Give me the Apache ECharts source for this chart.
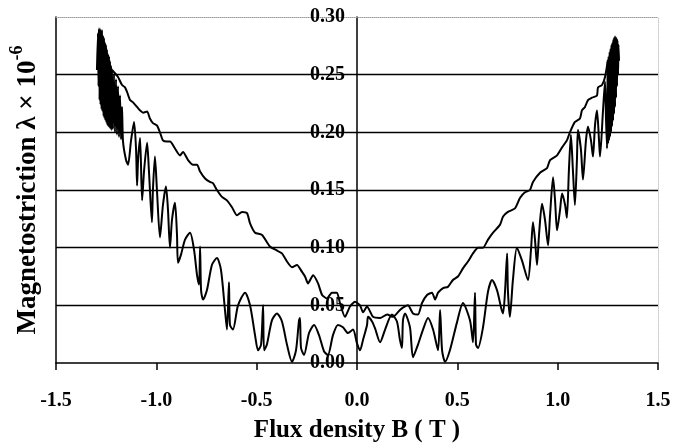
<!DOCTYPE html>
<html>
<head>
<meta charset="utf-8">
<script src="https://cdn.jsdelivr.net/npm/echarts@6/dist/echarts.min.js"></script>
<style>
  html, body { margin: 0; padding: 0; background: #fff; }
  #chart { width: 680px; height: 443px; }
</style>
</head>
<body>
<div id="chart"></div>
<script>
// Butterfly loop: magnetostriction versus flux density.
// Branch traced with the smoother, rippled curve.
const upperB = [-1.221, -1.191, -1.171, -1.156, -1.146, -1.131, -1.116, -1.096, -1.081, -1.066,
  -1.046, -1.032, -1.017, -0.997, -0.982, -0.967, -0.947, -0.932, -0.907, -0.882,
  -0.867, -0.842, -0.817, -0.797, -0.782, -0.757, -0.733, -0.718, -0.698, -0.673,
  -0.648, -0.623, -0.598, -0.573, -0.548, -0.533, -0.508, -0.473, -0.434, -0.404,
  -0.374, -0.349, -0.324, -0.299, -0.274, -0.259, -0.244, -0.219, -0.194, -0.174,
  -0.150, -0.125, -0.100, -0.085, -0.060, -0.035, -0.010, 0.015, 0.030, 0.050,
  0.080, 0.115, 0.150, 0.179, 0.214, 0.229, 0.254, 0.279, 0.304, 0.324,
  0.349, 0.374, 0.389, 0.404, 0.429, 0.453, 0.478, 0.503, 0.528, 0.553,
  0.578, 0.603, 0.628, 0.653, 0.678, 0.713, 0.728, 0.752, 0.787, 0.812,
  0.837, 0.862, 0.877, 0.912, 0.947, 0.962, 0.997, 1.022, 1.046, 1.061,
  1.086, 1.111, 1.121, 1.136, 1.151, 1.171, 1.196, 1.201, 1.221, 1.236, 1.251];
const upperL = [0.254, 0.248, 0.241, 0.239, 0.235, 0.228, 0.226, 0.222, 0.219, 0.217,
  0.218, 0.212, 0.208, 0.206, 0.200, 0.193, 0.192, 0.192, 0.186, 0.180,
  0.183, 0.176, 0.172, 0.172, 0.166, 0.160, 0.157, 0.156, 0.150, 0.144,
  0.141, 0.135, 0.128, 0.131, 0.130, 0.121, 0.113, 0.111, 0.101, 0.098,
  0.095, 0.088, 0.083, 0.085, 0.079, 0.075, 0.069, 0.076, 0.069, 0.059,
  0.056, 0.061, 0.061, 0.052, 0.040, 0.049, 0.053, 0.050, 0.044, 0.049,
  0.040, 0.039, 0.042, 0.040, 0.046, 0.048, 0.050, 0.043, 0.042, 0.052,
  0.059, 0.061, 0.055, 0.061, 0.065, 0.066, 0.072, 0.075, 0.082, 0.088,
  0.095, 0.100, 0.100, 0.107, 0.113, 0.120, 0.127, 0.131, 0.134, 0.143,
  0.148, 0.150, 0.157, 0.165, 0.169, 0.176, 0.180, 0.187, 0.193, 0.200,
  0.209, 0.212, 0.219, 0.222, 0.228, 0.230, 0.232, 0.239, 0.241, 0.248, 0.263];

// Return branch with the strong oscillations, including both saturation ends.
const lowerB = [-1.296, -1.291, -1.288, -1.286, -1.283, -1.281, -1.278, -1.276, -1.273, -1.271,
  -1.268, -1.266, -1.263, -1.261, -1.258, -1.256, -1.253, -1.251, -1.248, -1.246,
  -1.243, -1.241, -1.238, -1.236, -1.233, -1.231, -1.228, -1.226, -1.223, -1.221,
  -1.216, -1.211, -1.206, -1.201, -1.196, -1.191, -1.186, -1.181, -1.176, -1.171,
  -1.166, -1.151,
  -1.141, -1.126, -1.111, -1.101, -1.096, -1.091, -1.081, -1.071, -1.061, -1.046,
  -1.037, -1.022, -1.017, -1.007, -0.997, -0.982, -0.967, -0.952, -0.942, -0.932,
  -0.922, -0.907, -0.897, -0.892, -0.877, -0.857, -0.832, -0.812, -0.797, -0.787,
  -0.782, -0.777, -0.767, -0.748, -0.723, -0.698, -0.678, -0.658, -0.648, -0.638,
  -0.633, -0.618, -0.593, -0.558, -0.533, -0.508, -0.493, -0.478, -0.468, -0.463,
  -0.449, -0.424, -0.399, -0.374, -0.349, -0.324, -0.304, -0.289, -0.284, -0.279,
  -0.264, -0.239, -0.214, -0.189, -0.164, -0.145, -0.120, -0.095, -0.070, -0.045,
  -0.020, 0.000, 0.015, 0.030, 0.050, 0.055, 0.075, 0.090, 0.115, 0.140,
  0.174, 0.199, 0.214, 0.224, 0.229, 0.239, 0.264, 0.279, 0.304, 0.329,
  0.354, 0.379, 0.404, 0.414, 0.424, 0.439, 0.463, 0.498, 0.528, 0.563,
  0.578, 0.588, 0.593, 0.603, 0.628, 0.653, 0.673, 0.698, 0.718, 0.728,
  0.738, 0.748, 0.752, 0.762, 0.777, 0.797, 0.822, 0.852, 0.867, 0.877,
  0.887, 0.897, 0.907, 0.922, 0.937, 0.952, 0.962, 0.977, 0.987, 0.997,
  1.012, 1.022, 1.037, 1.046, 1.056, 1.066, 1.076, 1.086, 1.096, 1.101,
  1.116, 1.126, 1.141, 1.151, 1.166, 1.176, 1.186, 1.196, 1.206, 1.211,
  1.226, 1.236, 1.241, 1.246, 1.249, 1.251, 1.254, 1.256, 1.259, 1.261,
  1.264, 1.266, 1.268, 1.271, 1.273, 1.276, 1.278, 1.281, 1.283, 1.286,
  1.288, 1.291, 1.293, 1.296, 1.298, 1.301, 1.303, 1.306];
const lowerL = [0.254, 0.286, 0.240, 0.290, 0.228, 0.290, 0.224, 0.288, 0.220, 0.289,
  0.218, 0.284, 0.214, 0.282, 0.212, 0.278, 0.210, 0.276, 0.208, 0.272,
  0.206, 0.268, 0.205, 0.266, 0.204, 0.262, 0.203, 0.258, 0.202, 0.255,
  0.203, 0.250, 0.200, 0.246, 0.198, 0.240, 0.196, 0.232, 0.194, 0.222,
  0.192, 0.176,
  0.172, 0.193, 0.209, 0.185, 0.154, 0.176, 0.195, 0.141, 0.167, 0.191,
  0.167, 0.122, 0.150, 0.179, 0.150, 0.109, 0.137, 0.153, 0.133, 0.100,
  0.124, 0.139, 0.111, 0.087, 0.094, 0.107, 0.113, 0.098, 0.076, 0.068,
  0.101, 0.063, 0.055, 0.063, 0.085, 0.091, 0.081, 0.046, 0.029, 0.070,
  0.033, 0.029, 0.050, 0.061, 0.050, 0.024, 0.011, 0.016, 0.050, 0.011,
  0.016, 0.037, 0.043, 0.036, 0.016, 0.001, 0.011, 0.037, 0.039, 0.013,
  0.007, 0.026, 0.033, 0.024, 0.010, 0.007, 0.024, 0.033, 0.031, 0.026,
  0.029, 0.017, 0.011, 0.020, 0.033, 0.040, 0.036, 0.030, 0.018, 0.029,
  0.042, 0.036, 0.020, 0.013, 0.037, 0.043, 0.031, 0.005, 0.016, 0.029,
  0.039, 0.029, 0.011, 0.046, 0.011, 0.001, 0.011, 0.035, 0.052, 0.037,
  0.018, 0.061, 0.016, 0.013, 0.031, 0.062, 0.072, 0.063, 0.048, 0.043,
  0.063, 0.095, 0.063, 0.040, 0.072, 0.100, 0.089, 0.072, 0.098, 0.122,
  0.107, 0.085, 0.111, 0.138, 0.124, 0.102, 0.128, 0.161, 0.141, 0.115,
  0.133, 0.147, 0.137, 0.126, 0.167, 0.198, 0.167, 0.137, 0.176, 0.202,
  0.185, 0.159, 0.193, 0.205, 0.193, 0.179, 0.206, 0.219, 0.193, 0.179,
  0.219, 0.244, 0.211, 0.186, 0.262, 0.190, 0.266, 0.193, 0.270, 0.196,
  0.273, 0.200, 0.276, 0.205, 0.278, 0.210, 0.281, 0.216, 0.283, 0.222,
  0.283, 0.230, 0.282, 0.240, 0.280, 0.250, 0.276, 0.262];

const xTicks = { min: -1.5, max: 1.5, step: 0.5 };
const yTicks = { min: 0, max: 0.30, step: 0.05 };

const pairs = (xs, ys) => xs.map((x, i) => [x, ys[i]]);
const serif = '"Liberation Serif", "Times New Roman", "DejaVu Serif", serif';

const gridBox = { left: 56, right: 22, top: 17, bottom: 80 };
const plotWidth = 680 - gridBox.left - gridBox.right;
// The value axis sits at B = 0, i.e. halfway across the plot.
const zeroOffset = -plotWidth * (0 - xTicks.min) / (xTicks.max - xTicks.min);

const chart = echarts.init(document.getElementById('chart'), null, { renderer: 'canvas' });
chart.setOption({
  backgroundColor: '#ffffff',
  animation: false,
  grid: Object.assign({ containLabel: false, outerBoundsMode: 'none' }, gridBox),
  xAxis: [
    {
      type: 'value', min: xTicks.min, max: xTicks.max, interval: xTicks.step,
      position: 'bottom',
      axisLine: { onZero: false, lineStyle: { color: '#000', width: 1.5 } },
      axisTick: { show: true, inside: false, length: 7, lineStyle: { color: '#000', width: 1.5 } },
      axisLabel: {
        margin: 28, color: '#000', fontFamily: serif, fontWeight: 'bold', fontSize: 20,
        formatter: v => v.toFixed(1)
      },
      splitLine: { show: false },
      name: 'Flux density B ( T )',
      nameLocation: 'middle', nameGap: 55,
      nameTextStyle: { color: '#000', fontFamily: serif, fontWeight: 'bold', fontSize: 25 }
    },
    {
      type: 'value', min: xTicks.min, max: xTicks.max, interval: xTicks.step,
      position: 'top',
      axisLine: { onZero: false, lineStyle: { color: '#9a9a9a', width: 1, type: 'dotted' } },
      axisTick: { show: false }, axisLabel: { show: false }, splitLine: { show: false }
    }
  ],
  yAxis: [
    {
      type: 'value', min: yTicks.min, max: yTicks.max, interval: yTicks.step,
      position: 'left', offset: zeroOffset,
      axisLine: { show: true, onZero: false, lineStyle: { color: '#000', width: 1.5 } },
      axisTick: { show: false },
      axisLabel: {
        margin: 12, color: '#000', fontFamily: serif, fontWeight: 'bold', fontSize: 20,
        formatter: v => v.toFixed(2)
      },
      splitLine: { show: true, showMinLine: false, showMaxLine: false, lineStyle: { color: '#000', width: 1.4 } }
    },
    {
      type: 'value', min: yTicks.min, max: yTicks.max, interval: yTicks.step,
      position: 'left',
      axisLine: { show: true, onZero: false, lineStyle: { color: '#000', width: 1.5 } },
      axisTick: { show: false }, axisLabel: { show: false }, splitLine: { show: false },
      name: '{a|Magnetostriction λ × 10}{s|-6}',
      nameLocation: 'middle', nameGap: 14,
      nameTextStyle: {
        rich: {
          a: { color: '#000', fontFamily: serif, fontWeight: 'bold', fontSize: 27, verticalAlign: 'bottom', lineHeight: 34 },
          s: { color: '#000', fontFamily: serif, fontWeight: 'bold', fontSize: 18, verticalAlign: 'top', lineHeight: 34, padding: [0, 0, 14, 0] }
        }
      }
    },
    {
      type: 'value', min: yTicks.min, max: yTicks.max, interval: yTicks.step,
      position: 'right',
      axisLine: { show: true, onZero: false, lineStyle: { color: '#c8c8c8', width: 1, type: 'dotted' } },
      axisTick: { show: false }, axisLabel: { show: false }, splitLine: { show: false }
    }
  ],
  series: [
    {
      type: 'line', xAxisIndex: 0, yAxisIndex: 0,
      data: pairs(upperB, upperL),
      showSymbol: false, smooth: 0.2,
      lineStyle: { color: '#000', width: 2 }
    },
    {
      type: 'line', xAxisIndex: 0, yAxisIndex: 0,
      data: pairs(lowerB, lowerL),
      showSymbol: false, smooth: 0.25,
      lineStyle: { color: '#000', width: 2 }
    }
  ]
});
</script>
</body>
</html>
